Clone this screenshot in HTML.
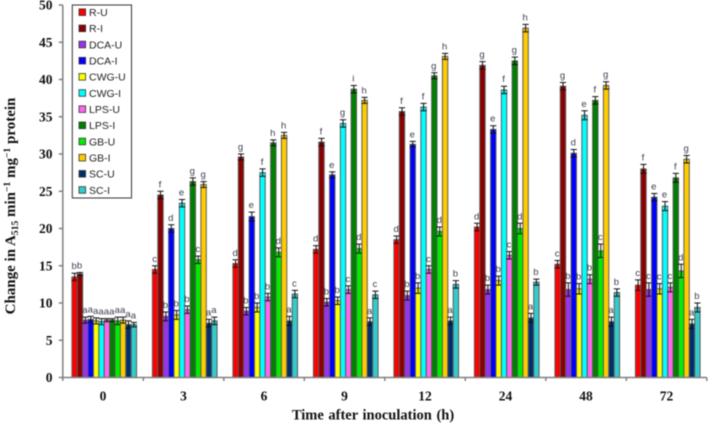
<!DOCTYPE html>
<html lang="en">
<head>
<meta charset="utf-8">
<title>Change in A515 over time</title>
<style>
html,body{margin:0;padding:0;background:#fff;width:709px;height:424px;overflow:hidden}
svg{display:block;filter:blur(.4px)}
.serif{font-family:"Liberation Serif",serif;font-weight:bold;fill:#111}
.sans{font-family:"Liberation Sans",sans-serif}
</style>
</head>
<body>
<svg id="chart" width="709" height="424" viewBox="0 0 709 424" xmlns="http://www.w3.org/2000/svg">
<g id="marks"></g>
<g id="sig-labels"></g>
<g id="axes"></g>
<text class="serif" x="373" y="419.5" font-size="14.5" text-anchor="middle" style="word-spacing:1px">Time after inoculation  (h)</text>
<text class="serif" transform="translate(15,206) rotate(-90)" font-size="15" text-anchor="middle">Change in A<tspan font-size="9.6" dy="3">515</tspan><tspan dy="-3"> min</tspan><tspan font-size="9.6" dy="-5">−1</tspan><tspan dy="5"> mg</tspan><tspan font-size="9.6" dy="-5">−1</tspan><tspan dy="5"> protein</tspan></text>
<g id="legend"></g>
</svg>
<script>
const categories = ['0','3','6','9','12','24','48','72'];
const yTicks = [0,5,10,15,20,25,30,35,40,45,50];
const seriesNames = ['R-U','R-I','DCA-U','DCA-I','CWG-U','CWG-I','LPS-U','LPS-I','GB-U','GB-I','SC-U','SC-I'];
const seriesColors = ['#ff0000','#8b0000','#9933ee','#0000ff','#ffff00','#00ffff','#ff66ee','#008000','#00ee00','#ffcc00','#002f6c','#33cccc'];

const rU = [13.5,14.5,15.3,17.2,18.5,20.2,15.2,12.4];
const rI = [13.9,24.5,29.6,31.6,35.7,41.9,39.1,28.0];
const dcaU = [7.7,8.2,8.9,10.1,11.0,11.8,11.8,11.8];
const dcaI = [7.8,20.0,21.6,27.2,31.3,33.3,30.1,24.2];
const cwgU = [7.6,8.4,9.4,10.3,12.0,13.0,11.9,11.9];
const cwgI = [7.5,23.4,27.5,34.1,36.3,38.6,35.2,23.0];
const lpsU = [7.7,9.1,10.8,11.8,14.5,16.4,13.2,12.1];
const lpsI = [7.7,26.3,31.5,38.7,40.5,42.5,37.2,26.8];
const gbU = [7.6,15.8,16.8,17.3,19.6,20.0,17.0,14.3];
const gbI = [7.7,25.9,32.5,37.2,43.1,46.9,39.2,29.3];
const scU = [7.1,7.3,7.6,7.5,7.6,8.0,7.5,7.2];
const scI = [7.1,7.6,11.2,11.1,12.5,12.8,11.4,9.4];

const errRU = [.5,.5,.5,.5,.5,.5,.5,.7];
const errRI = [.2,.5,.4,.5,.5,.5,.5,.6];
const errDcaU = [.4,.6,.5,.5,.6,.6,.9,.9];
const errDcaI = [.4,.5,.6,.4,.4,.5,.5,.5];
const errCwgU = [.4,.6,.6,.5,.7,.6,.7,.7];
const errCwgI = [.4,.5,.5,.5,.5,.5,.6,.6];
const errLpsU = [.2,.5,.5,.5,.5,.5,.6,.6];
const errLpsI = [.2,.5,.4,.5,.4,.5,.5,.6];
const errGbU = [.5,.5,.6,.6,.6,.7,.9,.9];
const errGbI = [.4,.4,.4,.4,.4,.5,.5,.5];
const errScU = [.5,.5,.6,.5,.5,.6,.6,.6];
const errScI = [.3,.5,.5,.5,.5,.4,.5,.6];

const lblRU = ['b','c','d','d','d','d','c','c'];
const lblRI = ['b','f','g','f','f','g','g','f'];
const lblDcaU = ['a','b','b','b','b','b','b','c'];
const lblDcaI = ['a','d','e','e','e','e','d','e'];
const lblCwgU = ['a','b','b','b','b','b','b','c'];
const lblCwgI = ['a','e','f','g','f','f','e','e'];
const lblLpsU = ['a','b','b','c','c','c','b','c'];
const lblLpsI = ['a','g','h','i','g','g','f','f'];
const lblGbU = ['a','c','d','d','d','d','c','d'];
const lblGbI = ['a','g','h','h','h','h','g','g'];
const lblScU = ['a','a','a','a','a','a','a','a'];
const lblScI = ['a','a','c','c','b','b','b','b'];

const seriesValues = [rU,rI,dcaU,dcaI,cwgU,cwgI,lpsU,lpsI,gbU,gbI,scU,scI];
const seriesErrors = [errRU,errRI,errDcaU,errDcaI,errCwgU,errCwgI,errLpsU,errLpsI,errGbU,errGbI,errScU,errScI];
const seriesLabels = [lblRU,lblRI,lblDcaU,lblDcaI,lblCwgU,lblCwgI,lblLpsU,lblLpsI,lblGbU,lblGbI,lblScU,lblScI];

const NS = 'http://www.w3.org/2000/svg';
const plotLeft = 62.8, groupStep = 80.5, groupPad = 9.1, barStep = 5.39;
const baseY = 377.5, topY = 5, yMax = 50;
function yScale(v){ return baseY - v / yMax * (baseY - topY); }
function xScale(g, s){ return plotLeft + g * groupStep + groupPad + s * barStep; }
function make(tag, parent, attrs){
  const el = document.createElementNS(NS, tag);
  for (const k in attrs) el.setAttribute(k, attrs[k]);
  parent.appendChild(el);
  return el;
}

const marks = document.getElementById('marks');
const sigLabels = document.getElementById('sig-labels');
seriesValues.forEach(function(vals, s){
  const g = make('g', marks, {});
  
  
  vals.forEach(function(v, c){
    const x = xScale(c, s), y = yScale(v);
    const bar = make('rect', g, {x:x, y:y, width:barStep, height:baseY-y, fill:seriesColors[s], stroke:'#5a5a5a', 'stroke-width':1});
    
    
    const e = seriesErrors[s][c], mid = x + barStep/2;
    const eh = yScale(v+e), el = yScale(v-e);
    const err = make('path', g, {d:'M'+mid+' '+eh+'V'+el+'M'+(mid-3.1)+' '+eh+'h6.2M'+(mid-3.1)+' '+el+'h6.2', stroke:'#111', 'stroke-width':1, fill:'none'});
    
    
    const t = make('text', sigLabels, {x:mid-.5, y:eh-4, 'font-size':9.5, 'text-anchor':'middle', fill:'#3c3c50', class:'sans'});
    t.textContent = seriesLabels[s][c];
    
    
  });
});

const axes = document.getElementById('axes');
const axisStyle = {stroke:'#808080', 'stroke-width':1.5, fill:'none'};
const yAxis = make('path', axes, Object.assign({d:'M'+plotLeft+' '+topY+'V'+baseY}, axisStyle));


const xAxis = make('path', axes, Object.assign({d:'M'+plotLeft+' '+baseY+'H'+(plotLeft+categories.length*groupStep)}, axisStyle));


yTicks.forEach(function(v){
  const y = yScale(v);
  const tick = make('path', axes, Object.assign({d:'M'+(plotLeft-4)+' '+y+'H'+plotLeft}, axisStyle));
  
  
  const t = make('text', axes, {x:52.5, y:y+4.5, 'font-size':13.5, 'text-anchor':'end', class:'serif'});
  t.textContent = v;
  
  
});
for (let i = 0; i <= categories.length; i++){
  const x = plotLeft + i * groupStep;
  const tick = make('path', axes, Object.assign({d:'M'+x+' '+baseY+'v3.5'}, axisStyle));
  
  
}
categories.forEach(function(c, i){
  const t = make('text', axes, {x:plotLeft+(i+.5)*groupStep, y:400.5, 'font-size':13.5, 'text-anchor':'middle', class:'serif'});
  t.textContent = c;
  
  
});

const legend = document.getElementById('legend');
const box = make('rect', legend, {x:72.3, y:5, width:59.2, height:193, fill:'#fff', stroke:'#333', 'stroke-width':1});


seriesNames.forEach(function(n, i){
  const y = 12.2 + i * 16.16;
  const sw = make('rect', legend, {x:79, y:y-3.3, width:6.6, height:6.6, fill:seriesColors[i], stroke:'#333', 'stroke-width':.8});
  
  
  const t = make('text', legend, {x:89, y:y+3.8, 'font-size':10.5, fill:'#222', class:'sans'});
  t.textContent = n;
  
  
});
</script>
</body>
</html>
